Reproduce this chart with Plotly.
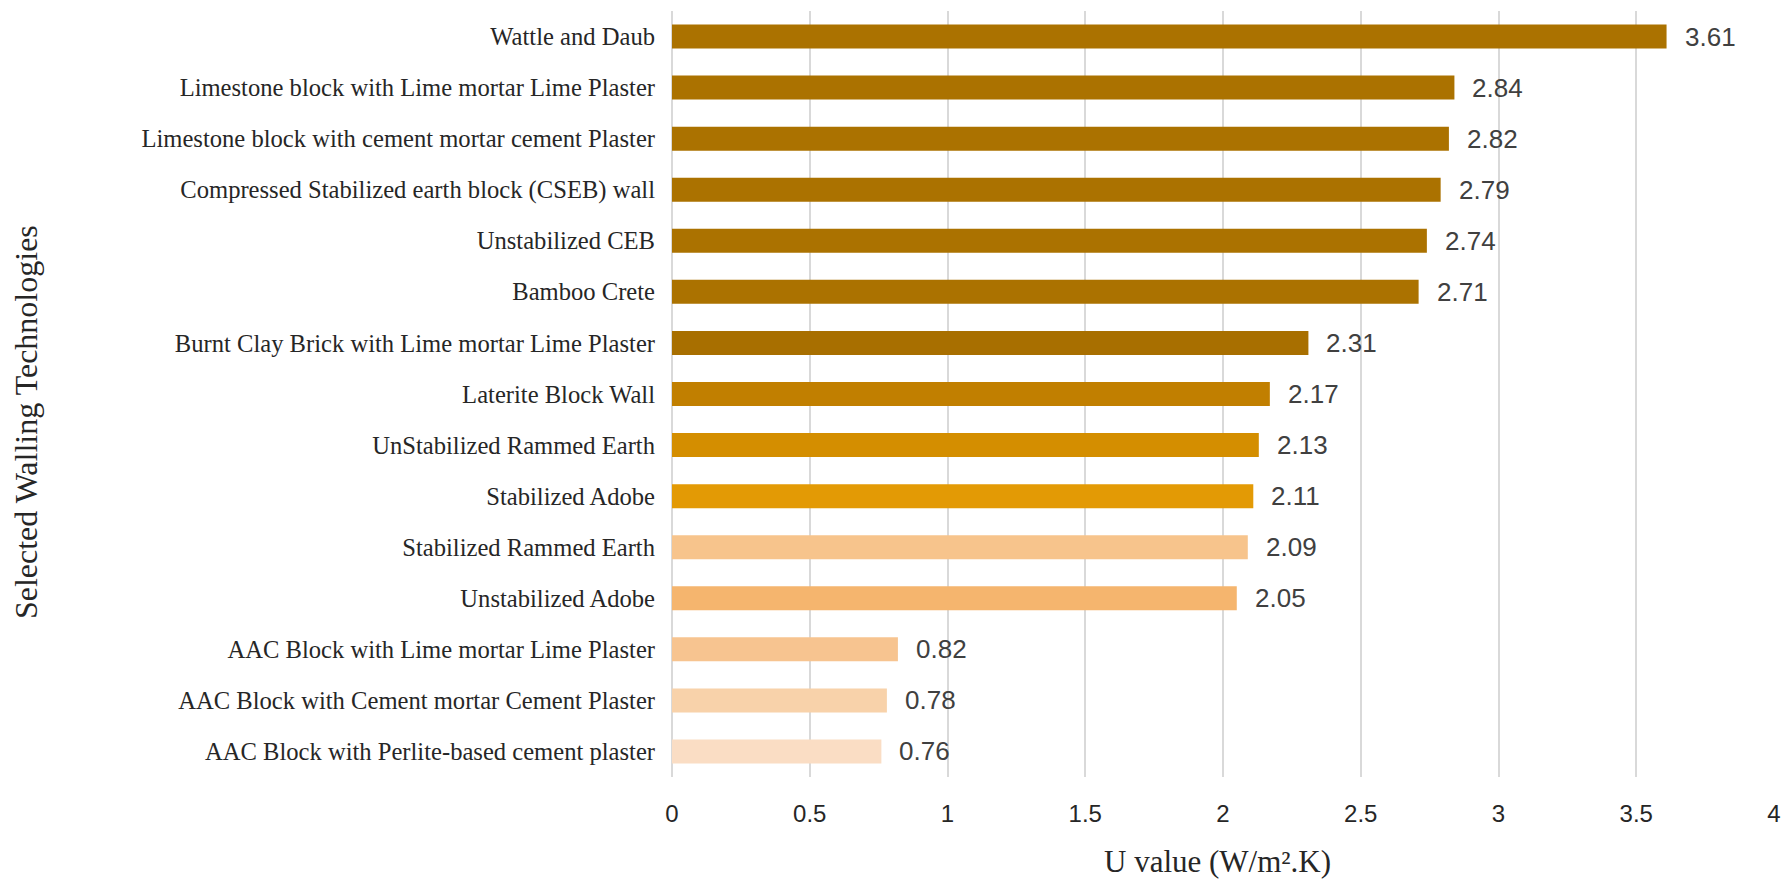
import plotly.graph_objects as go

categories = [
    "Wattle and Daub",
    "Limestone block with Lime mortar Lime Plaster",
    "Limestone block with cement mortar cement Plaster",
    "Compressed Stabilized earth block (CSEB) wall",
    "Unstabilized CEB",
    "Bamboo Crete",
    "Burnt Clay Brick with Lime mortar Lime Plaster",
    "Laterite Block Wall",
    "UnStabilized Rammed Earth",
    "Stabilized Adobe",
    "Stabilized Rammed Earth",
    "Unstabilized Adobe",
    "AAC Block with Lime mortar Lime Plaster",
    "AAC Block with Cement mortar Cement Plaster",
    "AAC Block with Perlite-based cement plaster",
]
u_values = [3.61, 2.84, 2.82, 2.79, 2.74, 2.71, 2.31, 2.17, 2.13, 2.11, 2.09, 2.05, 0.82, 0.78, 0.76]
bar_colors = ["#AB7200", "#AB7200", "#AB7200", "#AB7200", "#AB7200", "#AB7200", "#A86F00",
              "#C17F00", "#D48E00", "#E39A05", "#F7C48C", "#F5B56E", "#F7C490", "#F8D2AA", "#FADDC4"]
x_ticks = [0, 0.5, 1, 1.5, 2, 2.5, 3, 3.5, 4]

fig = go.Figure()
fig.add_trace(go.Bar(
    x=u_values, y=categories, orientation="h",
    marker=dict(color=bar_colors, line=dict(width=0)),
    showlegend=False, hoverinfo="x+y",
))

for c, v in zip(categories, u_values):
    fig.add_annotation(x=v, y=c, xref="x", yref="y", text=f"{v:.2f}",
                       showarrow=False, xanchor="left", yanchor="middle", xshift=16,
                       font=dict(family="Liberation Sans, Arial", size=26, color="#404040"))

fig.update_layout(
    width=1783, height=879,
    margin=dict(l=672, r=9, t=11, b=102, autoexpand=False),
    paper_bgcolor="white", plot_bgcolor="white",
    bargap=0.53,
    font=dict(family="Liberation Serif, Times New Roman", color="#262626"),
)
fig.update_xaxes(
    range=[0, 4], tickvals=x_ticks, ticktext=[f"{t:g}" for t in x_ticks],
    showgrid=True, gridcolor="#D9D9D9", gridwidth=2,
    zeroline=True, zerolinecolor="#D9D9D9", zerolinewidth=2,
    showline=False, ticks="", ticklabelstandoff=20, automargin=False,
    tickfont=dict(family="Liberation Sans, Arial", size=24, color="#262626"),
    fixedrange=True,
)
fig.update_yaxes(
    categoryorder="array", categoryarray=categories[::-1],
    showgrid=False, showline=False, ticks="", ticklabelstandoff=16, automargin=False,
    tickfont=dict(family="Liberation Serif, Times New Roman", size=24.6, color="#262626"),
    fixedrange=True,
)
fig.add_annotation(text="U value (W/m².K)", xref="paper", yref="paper",
                   x=0.495, y=-0.11, yanchor="middle", xanchor="center", showarrow=False,
                   font=dict(family="Liberation Serif, Times New Roman", size=31, color="#262626"))
fig.add_annotation(text="Selected Walling Technologies", xref="paper", yref="paper",
                   x=-0.5855, xanchor="center", y=0.463, yanchor="middle", showarrow=False, textangle=-90,
                   font=dict(family="Liberation Serif, Times New Roman", size=32, color="#262626"))

fig.write_html("out.html", config={"displayModeBar": False},
               post_script="document.body.style.margin='0';document.body.style.overflow='hidden';")
